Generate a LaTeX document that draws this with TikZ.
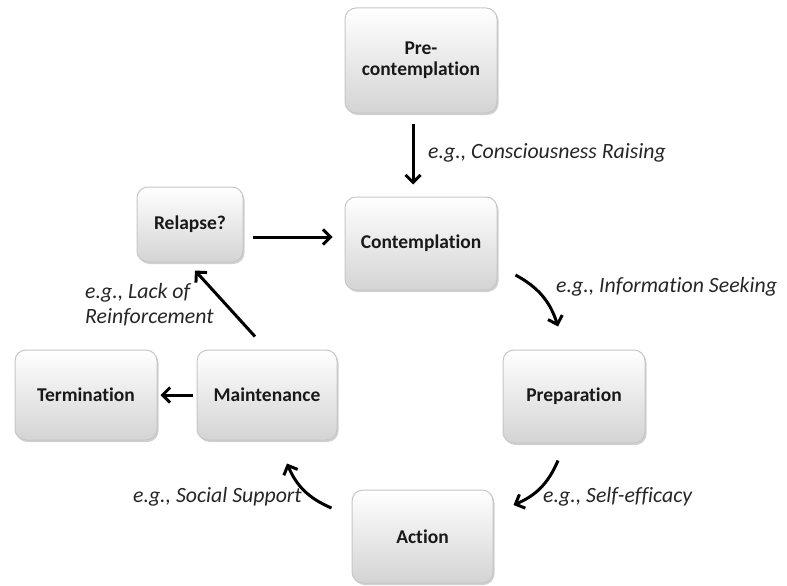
\documentclass[tikz,border=0pt]{standalone}
\usepackage{fontspec}
\setmainfont{Carlito}[Ligatures={NoCommon,NoContextual},RawFeature={-calt}]
\usetikzlibrary{arrows.meta,shadows,calc}
% keep "t" and "i" as separate glyphs
\newcommand\ti{t\kern0pt i}
\begin{document}
\begin{tikzpicture}[x=1pt,y=-1pt,
  stage/.style={draw=gray!45, line width=1pt, rounded corners=11pt,
    top color=white, bottom color=black!17, inner sep=0pt, align=center,
    font=\fontsize{19.5}{21}\selectfont\bfseries, text=black!90,
    drop shadow={shadow xshift=1.5pt, shadow yshift=-2pt, opacity=0.3, fill=black!60}},
  flow/.style={line width=3pt, black, -{Straight Barb[length=7.5pt,width=15pt]}},
  note/.style={font=\fontsize{21.8}{25}\selectfont\itshape, text=black!85,
    inner sep=0pt, align=left},
]
\useasboundingbox (0,0) rectangle (787,586);

% stages of change
\node[stage, minimum width=152pt, minimum height=105pt] (pre)     at (421,60.5)  {Pre-\\contempla\ti on};
\node[stage, minimum width=152pt, minimum height=93pt]  (contemp) at (421,243.5) {Contempla\ti on};
\node[stage, minimum width=106pt, minimum height=75pt]  (relapse) at (190,224.5) {Relapse?};
\node[stage, minimum width=142pt, minimum height=93pt]  (prep)    at (574,396.5) {Prepara\ti on};
\node[stage, minimum width=142pt, minimum height=90pt]  (term)    at (86,395)    {Termina\ti on};
\node[stage, minimum width=140pt, minimum height=90pt]  (maint)   at (267,395)   {Maintenance};
\node[stage, minimum width=141pt, minimum height=93pt]  (action)  at (422.5,536.5) {Ac\ti on};

% transitions
\draw[flow] ($(pre.south)+(-8,10)$) -- ($(contemp.north)+(-8,-12)$);
\draw[flow] ($(relapse.east)+(9,12.5)$) -- ($(contemp.west)+(-12,-6.5)$);
\draw[flow] ($(contemp.east)+(18,31.5)$) to[bend left=22] ($(prep.north)+(-16,-23)$);
\draw[flow] ($(prep.south)+(-16,17)$) to[bend left=22] ($(action.east)+(20,-31.5)$);
\draw[flow] ($(action.west)+(-20,-28.5)$) to[bend left=22] ($(maint.south)+(20,23)$);
\draw[flow] ($(maint.north)+(-12,-13)$) -- ($(relapse.south)+(5,8)$);
\draw[flow] ($(maint.west)+(-4,0)$) -- ($(term.east)+(3,0)$);

% processes of change
\node[note, anchor=west] (n1) at (428,153)   {e.g., Consciousness Raising};
\node[note, anchor=west] (n2) at (556,287)   {e.g., Informa\ti on Seeking};
\node[note, anchor=west] (n3) at (543,497)   {e.g., Self-efficacy};
\node[note, anchor=east] (n4) at (302,497)   {e.g., Social Support};
\node[note, anchor=west] (n5) at (85,304.5)  {e.g., Lack of\\Reinforcement};
\end{tikzpicture}
\end{document}
